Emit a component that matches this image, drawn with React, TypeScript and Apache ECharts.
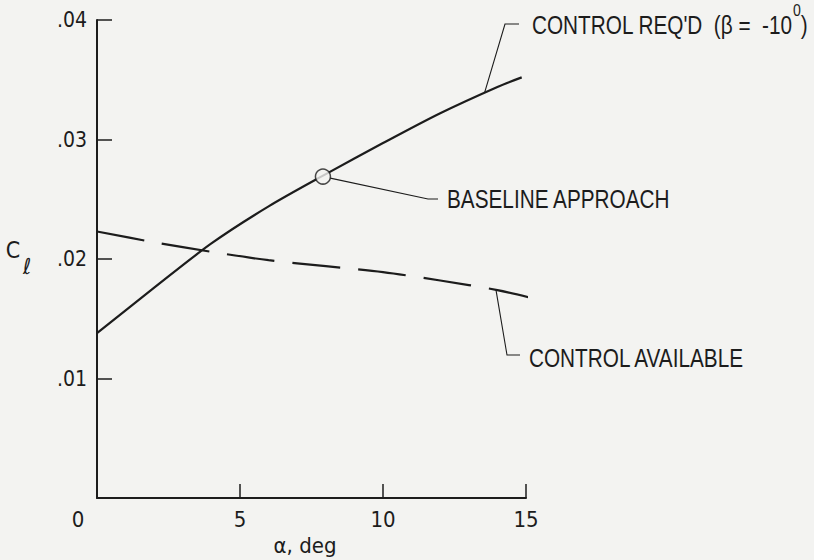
import React, { useEffect, useRef } from "react";
import * as echarts from "echarts";

// ---- data ----
const alphaReq = [0, 2, 4, 6, 8, 10, 12, 14, 14.85];
const clReq = [0.0138, 0.0176, 0.0213, 0.0244, 0.0271, 0.0297, 0.0322, 0.0344, 0.0352];
const alphaAvail = [0, 2, 4, 6, 8, 10, 12, 14, 15.1];
const clAvail = [0.0223, 0.0214, 0.0206, 0.0199, 0.0194, 0.0189, 0.0182, 0.0174, 0.0168];
const baselinePoint = [7.9, 0.0269];
const xTickLabels = ["0", "5", "10", "15"];
const yTickLabels = ["", ".01", ".02", ".03", ".04"];
const reqLabel = "CONTROL REQ'D  (\u03B2 =  -10";
const reqLabelSup = "0";
const baselineLabel = "BASELINE APPROACH";
const availLabel = "CONTROL AVAILABLE";
const xAxisName = "\u03B1, deg";
const yAxisName = "C";
const yAxisSub = "\u2113";
// anchor points (data space) where the leader lines touch the curves
const reqAnchor = [13.55, 0.0339];
const availAnchor = [13.95, 0.01742];

const AXFONT = '"DejaVu Sans Condensed", "Liberation Sans Narrow", sans-serif';
const FONT = '"Liberation Sans", Arial, sans-serif';
const NARROW = 0.83;
const INK = "#1c1c1c";
const BG = "#f3f3f1";

export default function App() {
  const ref = useRef<HTMLDivElement>(null);
  useEffect(() => {
    document.body.style.margin = "0";
    const chart = echarts.init(ref.current!, undefined, { renderer: "svg" });
    chart.setOption({
      animation: false,
      backgroundColor: BG,
      grid: { left: 97, right: 288, top: 20, bottom: 62 },
      xAxis: {
        type: "value",
        min: 0,
        max: 15,
        interval: 5,
        splitLine: { show: false },
        axisLine: { lineStyle: { color: INK, width: 2 } },
        axisTick: { inside: true, length: 14, lineStyle: { color: INK, width: 1.5 } },
        axisLabel: {
          color: INK,
          fontFamily: AXFONT,
          fontSize: 22,
          margin: 10,
          formatter: (v: number) => {
            const t = xTickLabels[Math.round(v / 5)] ?? "";
            return v === 0 ? `{o|${t}}` : t;
          },
          rich: { o: { fontFamily: AXFONT, fontSize: 22, color: INK, padding: [0, 38, 0, 0] } },
        },
      },
      yAxis: {
        type: "value",
        min: 0,
        max: 0.04,
        interval: 0.01,
        splitLine: { show: false },
        axisLine: { lineStyle: { color: INK, width: 2 } },
        axisTick: { inside: true, length: 15, lineStyle: { color: INK, width: 1.5 } },
        axisLabel: {
          color: INK,
          fontFamily: AXFONT,
          fontSize: 21,
          margin: 10,
          formatter: (v: number) => yTickLabels[Math.round(v / 0.01)] ?? "",
        },
      },
      series: [
        {
          type: "line",
          data: alphaReq.map((a, i) => [a, clReq[i]]),
          smooth: 0.3,
          symbol: "none",
          lineStyle: { color: INK, width: 2.2 },
          z: 2,
        },
        {
          type: "line",
          data: alphaAvail.map((a, i) => [a, clAvail[i]]),
          smooth: 0.3,
          symbol: "none",
          clip: false,
          lineStyle: { color: INK, width: 2.2, type: [48, 18] },
          z: 2,
        },
        {
          type: "scatter",
          data: [baselinePoint],
          symbol: "circle",
          symbolSize: 15,
          itemStyle: { color: BG, borderColor: INK, borderWidth: 1.5 },
          z: 5,
        },
      ],
    });

    const px = (p: number[]) => chart.convertToPixel({ gridIndex: 0 }, p) as number[];
    const c = px(baselinePoint);
    const bEnd = [428, 199];
    const dx = bEnd[0] - c[0];
    const dy = bEnd[1] - c[1];
    const len = Math.hypot(dx, dy);
    const bStart = [c[0] + (7.5 * dx) / len, c[1] + (7.5 * dy) / len];
    const rA = px(reqAnchor);
    const aA = px(availAnchor);
    const leader = { stroke: INK, lineWidth: 1.1, fill: "none" };
    const txt = (
      text: string,
      x: number,
      y: number,
      size: number,
      align = "left",
      scaleX = NARROW,
      family = FONT
    ) => ({
      type: "text",
      x,
      y,
      scaleX,
      style: { text, fill: INK, fontFamily: family, fontSize: size, align, verticalAlign: "middle" },
    });

    chart.setOption({
      graphic: [
        { type: "polyline", shape: { points: [rA, [505, 24], [519, 24]] }, style: leader },
        { type: "polyline", shape: { points: [bStart, bEnd, [438, 199]] }, style: leader },
        { type: "polyline", shape: { points: [aA, [507, 355], [520, 355]] }, style: leader },
        {
          type: "text",
          x: 532,
          y: 20,
          scaleX: NARROW,
          style: {
            text: `{a|${reqLabel}}{s|${reqLabelSup}}{a|)}`,
            fill: INK,
            fontFamily: FONT,
            fontSize: 25,
            align: "left",
            verticalAlign: "middle",
            rich: {
              a: { fill: INK, fontFamily: FONT, fontSize: 25, lineHeight: 36, verticalAlign: "bottom" },
              s: { fill: INK, fontFamily: FONT, fontSize: 17, lineHeight: 17, verticalAlign: "top" },
            },
          },
        },
        txt(baselineLabel, 447, 199, 25),
        txt(availLabel, 529, 358, 25),
        txt(xAxisName, 305, 545, 22, "center", 1, AXFONT),
        txt(yAxisName, 13, 250, 23, "center", 1, AXFONT),
        txt(yAxisSub, 27, 266, 22, "center", 1, AXFONT),
      ],
    });
    return () => chart.dispose();
  }, []);
  return <div ref={ref} style={{ width: 814, height: 560 }} />;
}
